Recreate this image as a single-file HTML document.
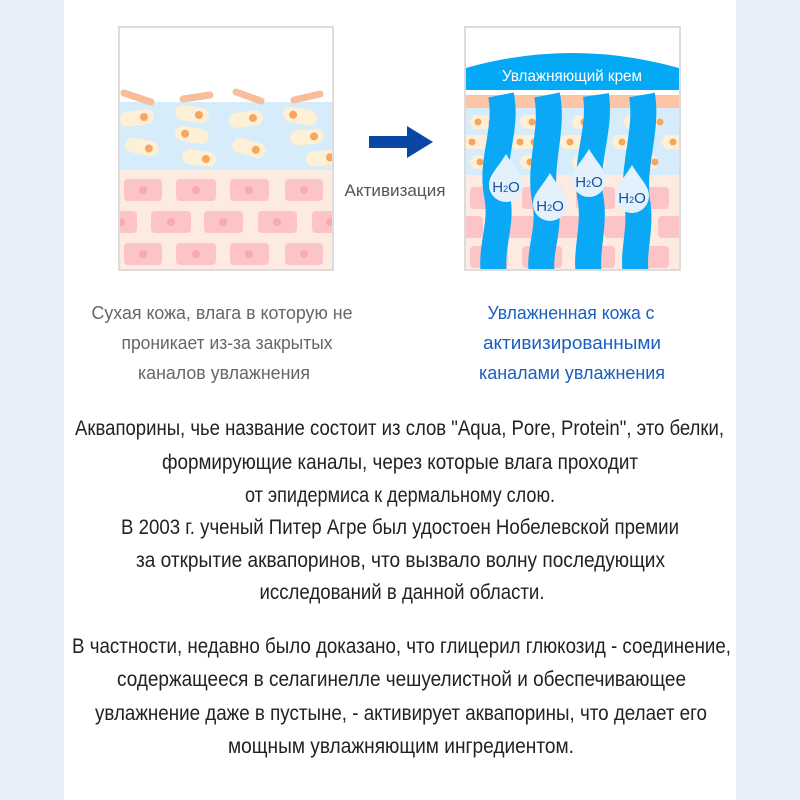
<!DOCTYPE html>
<html><head><meta charset="utf-8"><style>
html,body{margin:0;padding:0;background:#fff}
svg{display:block}
text{font-family:"Liberation Sans Narrow","Liberation Sans",sans-serif}
</style></head><body>
<svg width="800" height="800" viewBox="0 0 800 800" xmlns="http://www.w3.org/2000/svg">
<rect width="800" height="800" fill="#fff"/>
<rect x="0" y="0" width="64" height="800" fill="#e6eef8"/>
<rect x="736" y="0" width="64" height="800" fill="#e6eef8"/>

<defs>
<clipPath id="cl"><rect x="120" y="28" width="212" height="241"/></clipPath>
<clipPath id="cr"><rect x="466" y="28" width="213" height="241"/></clipPath>
<g id="cap"><rect x="-17" y="-7.5" width="34" height="15" rx="7.5" fill="#fdf0d6"/><circle cx="7" cy="0" r="4" fill="#f8a55e"/></g>
</defs>
<rect x="119" y="27" width="214" height="243" fill="#fff" stroke="#dcdcdc" stroke-width="2"/>
<g clip-path="url(#cl)">
<rect x="120" y="102" width="212" height="68" fill="#d6ecfa"/>
<rect x="120" y="170" width="212" height="100" fill="#fdebe2"/>
<g fill="#fcc4c6">
<rect x="124" y="179" width="38" height="22" rx="4"/><rect x="176" y="179" width="40" height="22" rx="4"/><rect x="230" y="179" width="39" height="22" rx="4"/><rect x="285" y="179" width="38" height="22" rx="4"/>
<rect x="110" y="211" width="27" height="22" rx="4"/><rect x="151" y="211" width="40" height="22" rx="4"/><rect x="204" y="211" width="39" height="22" rx="4"/><rect x="258" y="211" width="39" height="22" rx="4"/><rect x="312" y="211" width="30" height="22" rx="4"/>
<rect x="124" y="243" width="38" height="22" rx="4"/><rect x="176" y="243" width="40" height="22" rx="4"/><rect x="230" y="243" width="39" height="22" rx="4"/><rect x="285" y="243" width="38" height="22" rx="4"/>
</g>
<g fill="#f9a9b3">
<circle cx="143" cy="190" r="4"/><circle cx="196" cy="190" r="4"/><circle cx="249" cy="190" r="4"/><circle cx="304" cy="190" r="4"/>
<circle cx="121" cy="222" r="4"/><circle cx="171" cy="222" r="4"/><circle cx="223" cy="222" r="4"/><circle cx="277" cy="222" r="4"/><circle cx="330" cy="222" r="4"/>
<circle cx="143" cy="254" r="4"/><circle cx="196" cy="254" r="4"/><circle cx="249" cy="254" r="4"/><circle cx="304" cy="254" r="4"/>
</g>
<g stroke="#f8bd9a" stroke-width="7" stroke-linecap="round">
<line x1="124" y1="93" x2="151" y2="102"/><line x1="183" y1="99" x2="210" y2="95"/><line x1="236" y1="92" x2="261" y2="101"/><line x1="294" y1="100" x2="320" y2="94"/>
</g>
<use href="#cap" transform="translate(137,118) rotate(-8)"/>
<use href="#cap" transform="translate(192,114) rotate(8)"/>
<use href="#cap" transform="translate(246,119) rotate(-8)"/>
<use href="#cap" transform="translate(300,116) rotate(190)"/>
<use href="#cap" transform="translate(192,135) rotate(190)"/>
<use href="#cap" transform="translate(142,147) rotate(12)"/>
<use href="#cap" transform="translate(249,148) rotate(15)"/>
<use href="#cap" transform="translate(307,137) rotate(-5)"/>
<use href="#cap" transform="translate(199,158) rotate(8)"/>
<use href="#cap" transform="translate(323,158) rotate(-5)"/>
</g>

<polygon points="369,136 407,136 407,126 433,142 407,158 407,148 369,148" fill="#0a46a5"/>
<text x="395" y="196" font-size="17" fill="#555" text-anchor="middle" textLength="101" lengthAdjust="spacingAndGlyphs">Активизация</text>

<rect x="465" y="27" width="215" height="243" fill="#fff" stroke="#dcdcdc" stroke-width="2"/>
<g clip-path="url(#cr)">
<path d="M466,68 Q572,38 679,68 L679,90 L466,90 Z" fill="#03a9f4"/>
<rect x="466" y="95" width="213" height="13" fill="#fcc6a6"/>
<rect x="466" y="108" width="213" height="67" fill="#d6ecfa"/>
<rect x="466" y="175" width="213" height="95" fill="#fdebe2"/>
<g fill="#fcc4c6">
<rect x="470" y="187" width="38" height="22" rx="4"/><rect x="522" y="187" width="40" height="22" rx="4"/><rect x="576" y="187" width="39" height="22" rx="4"/><rect x="631" y="187" width="38" height="22" rx="4"/>
<rect x="456" y="216" width="27" height="22" rx="4"/><rect x="497" y="216" width="40" height="22" rx="4"/><rect x="550" y="216" width="39" height="22" rx="4"/><rect x="604" y="216" width="39" height="22" rx="4"/><rect x="658" y="216" width="30" height="22" rx="4"/>
<rect x="470" y="246" width="38" height="22" rx="4"/><rect x="522" y="246" width="40" height="22" rx="4"/><rect x="576" y="246" width="39" height="22" rx="4"/><rect x="631" y="246" width="38" height="22" rx="4"/>
</g>
<g fill="#fdf0d6">
<rect x="470" y="115" width="34" height="14" rx="7"/><rect x="520" y="115" width="34" height="14" rx="7"/><rect x="572" y="115" width="34" height="14" rx="7"/><rect x="624" y="115" width="34" height="14" rx="7"/>
<rect x="462" y="135" width="34" height="14" rx="7"/><rect x="510" y="135" width="34" height="14" rx="7"/><rect x="560" y="135" width="34" height="14" rx="7"/><rect x="612" y="135" width="34" height="14" rx="7"/><rect x="662" y="135" width="34" height="14" rx="7"/>
<rect x="470" y="155" width="34" height="14" rx="7"/><rect x="520" y="155" width="34" height="14" rx="7"/><rect x="572" y="155" width="34" height="14" rx="7"/><rect x="624" y="155" width="34" height="14" rx="7"/>
</g>
<g fill="#f8a55e">
<circle cx="478" cy="122" r="3.5"/><circle cx="492" cy="122" r="3.5"/><circle cx="532" cy="122" r="3.5"/><circle cx="584" cy="122" r="3.5"/><circle cx="634" cy="122" r="3.5"/><circle cx="660" cy="122" r="3.5"/>
<circle cx="472" cy="142" r="3.5"/><circle cx="520" cy="142" r="3.5"/><circle cx="534" cy="142" r="3.5"/><circle cx="570" cy="142" r="3.5"/><circle cx="584" cy="142" r="3.5"/><circle cx="622" cy="142" r="3.5"/><circle cx="636" cy="142" r="3.5"/><circle cx="673" cy="142" r="3.5"/>
<circle cx="480" cy="162" r="3.5"/><circle cx="530" cy="162" r="3.5"/><circle cx="634" cy="162" r="3.5"/><circle cx="655" cy="162" r="3.5"/>
</g>
<g fill="none" stroke="#0aa8f5" stroke-width="26">
<path d="M501,95 C508,130 490,160 497,195 C503,225 490,245 494,275"/>
<path d="M547,95 C554,130 538,165 545,200 C551,230 538,250 542,275"/>
<path d="M596,95 C601,130 585,160 590,195 C596,225 585,250 589,275"/>
<path d="M642,95 C648,130 632,165 637,200 C642,230 632,250 636,275"/>
</g>
<g fill="#e3f1fc">
<path d="M506,154 C515,169 523,175 523,185 A17,17 0 0 1 489,185 C489,175 497,169 506,154 Z"/>
<path d="M550,173 C559,188 567,194 567,204 A17,17 0 0 1 533,204 C533,194 541,188 550,173 Z"/>
<path d="M589,149 C598,164 606,170 606,180 A17,17 0 0 1 572,180 C572,170 580,164 589,149 Z"/>
<path d="M632,165 C641,180 649,186 649,196 A17,17 0 0 1 615,196 C615,186 623,180 632,165 Z"/>
</g>
<g font-size="15" fill="#1a4fa0" text-anchor="middle">
<text x="506" y="192">H<tspan font-size="9">2</tspan>O</text>
<text x="550" y="211">H<tspan font-size="9">2</tspan>O</text>
<text x="589" y="187">H<tspan font-size="9">2</tspan>O</text>
<text x="632" y="203">H<tspan font-size="9">2</tspan>O</text>
</g>
<text x="572" y="81" font-size="16" fill="#fff" text-anchor="middle" textLength="140" lengthAdjust="spacingAndGlyphs">Увлажняющий крем</text>
</g>

<g font-size="18" fill="#666" text-anchor="middle">
<text x="222" y="319" textLength="261" lengthAdjust="spacingAndGlyphs">Сухая кожа, влага в которую не</text>
<text x="227" y="349" textLength="211" lengthAdjust="spacingAndGlyphs">проникает из-за закрытых</text>
<text x="224" y="379" textLength="172" lengthAdjust="spacingAndGlyphs">каналов увлажнения</text>
</g>
<g font-size="18" fill="#1a5fc0" text-anchor="middle">
<text x="571" y="319" textLength="167" lengthAdjust="spacingAndGlyphs">Увлажненная кожа с</text>
<text x="572" y="349" textLength="178" lengthAdjust="spacingAndGlyphs">активизированными</text>
<text x="572" y="379" textLength="186" lengthAdjust="spacingAndGlyphs">каналами увлажнения</text>
</g>

<g font-size="21" fill="#222" text-anchor="middle">
<text x="399.5" y="435" textLength="649" lengthAdjust="spacingAndGlyphs">Аквапорины, чье название состоит из слов "Aqua, Pore, Protein", это белки,</text>
<text x="400" y="469" textLength="476" lengthAdjust="spacingAndGlyphs">формирующие каналы, через которые влага проходит</text>
<text x="400" y="502" textLength="310" lengthAdjust="spacingAndGlyphs">от эпидермиса к дермальному слою.</text>
<text x="400" y="534" textLength="558" lengthAdjust="spacingAndGlyphs">В 2003 г. ученый Питер Агре был удостоен Нобелевской премии</text>
<text x="400.5" y="567" textLength="529" lengthAdjust="spacingAndGlyphs">за открытие аквапоринов, что вызвало волну последующих</text>
<text x="402" y="599" textLength="285" lengthAdjust="spacingAndGlyphs">исследований в данной области.</text>
<text x="401.5" y="653" textLength="659" lengthAdjust="spacingAndGlyphs">В частности, недавно было доказано, что глицерил глюкозид - соединение,</text>
<text x="401.5" y="686" textLength="569" lengthAdjust="spacingAndGlyphs">содержащееся в селагинелле чешуелистной и обеспечивающее</text>
<text x="401" y="720" textLength="612" lengthAdjust="spacingAndGlyphs">увлажнение даже в пустыне, - активирует аквапорины, что делает его</text>
<text x="401" y="753" textLength="346" lengthAdjust="spacingAndGlyphs">мощным увлажняющим ингредиентом.</text>
</g>
</svg>
</body></html>
